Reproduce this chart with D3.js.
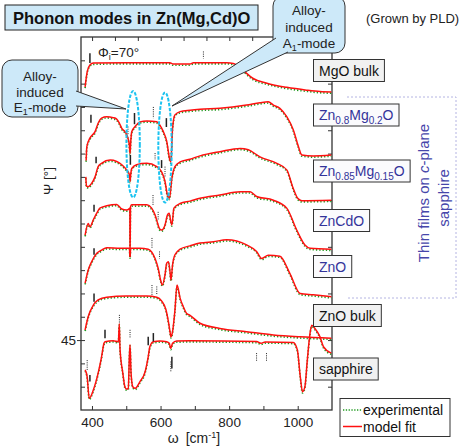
<!DOCTYPE html>
<html>
<head>
<meta charset="utf-8">
<script src="https://cdn.jsdelivr.net/npm/d3@7"></script>
<style>
body { margin: 0; background: #fff; }
svg { display: block; font-family: "Liberation Sans", Arial, sans-serif; }
</style>
</head>
<body>
<script>
let width = 462;
let height = 446;

// tick labels
let xTickLabels = [400, 600, 800, 1000];
let yTickLabels = [45];

// sample names (top to bottom), parts flagged 1 are subscripts
let sampleLabels = [
    [["MgO bulk", 0]],
    [["Zn", 0], ["0.8", 1], ["Mg", 0], ["0.2", 1], ["O", 0]],
    [["Zn", 0], ["0.85", 1], ["Mg", 0], ["0.15", 1], ["O", 0]],
    [["ZnCdO", 0]],
    [["ZnO", 0]],
    [["ZnO bulk", 0]],
    [["sapphire", 0]]
];
let isFilm = [false, true, true, true, true, false, false];

// Psi spectra, [omega (cm-1), Psi (deg)], offset as in the figure
let mgoBulk = [[380,99.3],[386,102.5],[394,104.0],[404,104.4],[500,104.5],[627,104.5],[637,104.2],[686,104.2],[696,104.5],[793,104.5],[812,104.3],[832,103.6],[851,102.2],[870,101.1],[910,100.1],[968,99.2],[1026,98.6],[1065,98.3],[1098,98.2]];

let zn08mg02o = [[383,83.5],[385,86.5],[394,88.3],[409,89.7],[418,91.5],[428,92.6],[443,92.9],[462,92.7],[472,92.4],[480,91.5],[487,90.4],[496,89.7],[505,88.3],[509,86.8],[511,85.0],[513,87.5],[516,89.7],[526,90.8],[540,91.8],[560,92.0],[589,91.8],[598,91.1],[608,89.7],[618,87.6],[626,84.0],[630,83.2],[635,90.4],[642,93.3],[657,94.0],[686,94.3],[715,94.5],[773,94.7],[851,95.4],[890,95.9],[914,96.1],[929,95.4],[948,94.7],[968,92.9],[987,90.1],[1002,86.5],[1012,84.7],[1045,84.5],[1098,84.7]];

let zn085mg015o = [[382,80.0],[384,78.0],[389,77.9],[399,78.6],[409,80.0],[418,82.2],[428,82.9],[453,83.6],[472,83.3],[487,82.6],[501,81.5],[509,80.5],[511,79.0],[513,80.5],[516,81.8],[530,82.6],[560,82.9],[589,82.2],[603,81.1],[613,79.0],[620,76.1],[626,75.4],[633,79.7],[642,82.2],[657,83.2],[686,83.8],[715,84.5],[773,85.4],[832,86.1],[856,85.8],[890,84.3],[939,82.9],[968,81.5],[987,77.5],[1000,75.4],[1012,74.9],[1098,75.0]];

let znCdO = [[380,67.5],[389,70.0],[394,69.3],[404,70.8],[414,72.2],[423,73.3],[443,73.8],[472,74.1],[487,73.1],[501,72.9],[509,73.2],[510.5,73.3],[511,62.8],[512.5,73.6],[516,74.0],[560,74.0],[574,73.3],[584,71.8],[590,70.4],[596,69.0],[603,68.6],[613,69.7],[620,71.8],[625,72.2],[630,70.4],[633,69.7],[639,73.3],[657,74.3],[686,74.8],[715,75.4],[773,76.1],[832,76.8],[861,76.8],[880,75.8],[929,75.0],[968,73.3],[997,68.6],[1021,65.4],[1036,64.7],[1098,64.5]];

let znO = [[380,57.2],[389,60.0],[399,61.8],[414,63.6],[428,64.3],[443,64.8],[482,64.7],[509,64.7],[511,62.9],[513,64.7],[540,64.7],[564,64.5],[574,63.9],[584,62.5],[593,60.4],[600,57.9],[605,56.8],[613,59.0],[618,61.5],[623,61.8],[627.5,59.7],[630.5,57.9],[635,61.1],[642,63.3],[657,64.5],[686,65.2],[715,65.8],[754,66.1],[793,66.5],[851,65.4],[880,64.0],[895,62.5],[914,63.2],[948,63.0],[977,59.3],[1007,55.0],[1045,54.7],[1098,54.3]];

let znoBulk = [[380,47.2],[389,50.0],[404,52.5],[418,53.6],[443,54.2],[501,54.45],[560,54.45],[589,54.2],[603,53.4],[616,51.45],[623,48.9],[627.5,46.8],[630.5,45.7],[635,46.8],[642,51.45],[648,56.8],[657,54.0],[666,52.2],[676,50.7],[686,50.3],[715,48.6],[773,47.5],[851,46.8],[929,46.1],[1007,45.7],[1098,45.4]];

let sapphire = [[380,38.6],[386,37.1],[392,32.5],[404,34.3],[418,37.9],[428,41.4],[435,44.3],[438,44.65],[462,44.86],[477,44.65],[479.7,48.5],[481.7,43.2],[490,37.9],[496,35.0],[501,34.5],[506,34.65],[509,41.4],[511,44.0],[514,37.9],[519,35.0],[526,34.65],[540,36.1],[555,38.2],[564,41.4],[569,43.6],[579,44.65],[598,44.8],[618,44.65],[625.5,44.3],[629.6,43.2],[635,44.3],[647,44.8],[686,44.86],[880,44.7],[893,44.3],[905,44.6],[987,44.5],[999,42.9],[1007,37.5],[1014,33.9],[1021,35.0],[1028,40.7],[1036,46.5],[1041,48.2],[1050,47.5],[1065,45.7],[1075,43.6],[1098,42.2]];

let series = [mgoBulk, zn08mg02o, zn085mg015o, znCdO, znO, znoBulk, sapphire];

// phonon mode marks: [omega, Psi top, Psi bottom, dotted?]
let modeMarks = [
    [394,106.5,104.4,0],[725,106.9,105.4,1],
    [397,93.3,91.6,0],[505,90.8,89.0,1],[524,93.7,91.3,0],[579,95.0,92.6,1],[617,92.6,90.7,0],
    [412,84.3,82.9,0],[512,84.7,82.6,0],[584,85.1,83.6,1],[603,83.6,81.9,0],[613,82.2,80.0,1],
    [406,74.0,72.5,0],[578,76.1,74.0,1],[593,72.5,70.8,1],
    [406,64.7,63.3,0],[575,66.9,64.7,1],[597,64.0,62.5,1],
    [406,55.0,53.2,0],[575,56.8,54.7,1],[589,56.5,54.7,1],
    [386,40.7,38.6,1],[394,37.5,36.1,0],[438,47.2,45.4,0],[480,50.4,48.6,1],[511,47.2,45.4,1],
    [564,45.7,43.9,0],[579,46.5,44.7,0],[630,40.4,38.2,1],[633,41.4,38.9,0],[880,42.2,40.4,1],[909,42.2,40.4,1]
];

// alloy-induced modes: [omega centre, Psi centre, omega half-width, Psi half-height]
let alloyModes = [[520, 87.0, 19.5, 11.4], [613, 86.3, 19.5, 11.8]];

let svg = d3.select("body")
    .append("svg")
    .attr("width", width)
    .attr("height", height);

let x = d3.scaleLinear().domain([368, 1100]).range([81, 332]);
let y = d3.scaleLinear().domain([30, 110]).range([410, 37]);
// top axis in THz (1 THz = 33.356 cm-1)
let thz = d3.scaleLinear().domain([368 / 33.356, 1100 / 33.356]).range([81, 332]);

svg.append("clipPath").attr("id", "plot")
    .append("rect").attr("x", 81).attr("y", 37).attr("width", 251).attr("height", 373);

// axes
function styleAxis(g) {
    g.attr("font-family", null).attr("font-size", 13.5).attr("color", "#333");
    g.select(".domain").remove();
    g.selectAll("text").attr("fill", "#222");
}

svg.append("g")
    .attr("transform", "translate(0,410)")
    .call(d3.axisBottom(x).tickValues(d3.range(400, 1001, 100))
        .tickSizeInner(-4).tickSizeOuter(0).tickPadding(7)
        .tickFormat(d => xTickLabels.includes(d) ? d : ""))
    .call(styleAxis);

svg.append("g")
    .attr("transform", "translate(0,37)")
    .call(d3.axisTop(thz).tickValues(d3.range(12, 33, 2))
        .tickSizeInner(-4).tickSizeOuter(0).tickFormat(""))
    .call(styleAxis);

let leftAxis = svg.append("g")
    .attr("transform", "translate(81,0)")
    .call(d3.axisLeft(y).tickValues(d3.range(35, 110, 5))
        .tickSizeInner(-4).tickSizeOuter(0).tickPadding(5)
        .tickFormat(d => yTickLabels.includes(d) ? d : ""))
    .call(styleAxis);
leftAxis.selectAll(".tick").filter(d => yTickLabels.includes(d)).select("line").attr("x1", -4);

svg.append("g")
    .attr("transform", "translate(332,0)")
    .call(d3.axisRight(y).tickValues(d3.range(35, 110, 5))
        .tickSizeInner(-4).tickSizeOuter(0).tickFormat(""))
    .call(styleAxis);

svg.append("rect")
    .attr("x", 81).attr("y", 37).attr("width", 251).attr("height", 373)
    .attr("fill", "none").attr("stroke", "#333").attr("stroke-width", 1.3);

// spectra: experimental (dotted green) under the model fit (red)
let line = d3.line()
    .x(d => x(d[0]))
    .y(d => y(d[1]))
    .curve(d3.curveMonotoneX);

let plot = svg.append("g").attr("clip-path", "url(#plot)");

plot.selectAll(".exp")
    .data(series)
    .join("path")
    .attr("class", "exp")
    .attr("d", line)
    .attr("transform", "translate(0,1.2)")
    .attr("fill", "none")
    .attr("stroke", "#1f9a1f")
    .attr("stroke-width", 1.7)
    .attr("stroke-dasharray", "1.3,2");

plot.selectAll(".fit")
    .data(series)
    .join("path")
    .attr("class", "fit")
    .attr("d", line)
    .attr("fill", "none")
    .attr("stroke", "#ff1010")
    .attr("stroke-width", 1.5);

// mode marks
plot.selectAll(".mark")
    .data(modeMarks)
    .join("line")
    .attr("class", "mark")
    .attr("x1", d => x(d[0])).attr("x2", d => x(d[0]))
    .attr("y1", d => y(d[1])).attr("y2", d => y(d[2]))
    .attr("stroke", "#222")
    .attr("stroke-width", d => d[3] ? 1 : 1.5)
    .attr("stroke-dasharray", d => d[3] ? "1,1.2" : null);

// alloy-induced mode ellipses
svg.selectAll(".alloy")
    .data(alloyModes)
    .join("ellipse")
    .attr("class", "alloy")
    .attr("cx", d => x(d[0]))
    .attr("cy", d => y(d[1]))
    .attr("rx", d => x(d[0] + d[2]) - x(d[0]))
    .attr("ry", d => y(d[1] - d[3]) - y(d[1]))
    .attr("fill", "none")
    .attr("stroke", "#1cc3f0")
    .attr("stroke-width", 2)
    .attr("stroke-dasharray", "3.5,1.5");

// callouts
let calloutFill = "#cde9f9";
function callout(bx, by, bw, bh, wedge, lines) {
    let g = svg.append("g");
    g.append("rect")
        .attr("x", bx).attr("y", by).attr("width", bw).attr("height", bh)
        .attr("rx", 10).attr("fill", calloutFill).attr("stroke", "#333").attr("stroke-width", 1);
    g.append("path")
        .attr("d", "M" + wedge[0] + "L" + wedge[1] + "L" + wedge[2] + "Z")
        .attr("fill", calloutFill);
    g.append("path")
        .attr("d", "M" + wedge[0] + "L" + wedge[1] + "L" + wedge[2])
        .attr("fill", "none").attr("stroke", "#333").attr("stroke-width", 1);
    lines.forEach((l, i) => {
        let t = g.append("text")
            .attr("x", bx + bw / 2).attr("y", by + l.dy)
            .attr("text-anchor", "middle").attr("font-size", 13.5).attr("fill", "#222");
        l.parts.forEach(p => {
            let s = t.append("tspan").text(p[0]);
            if (p[1] === 1) s.attr("font-size", 9).attr("dy", 3);
            if (p[1] === 2) s.attr("dy", -3);
        });
    });
}

callout(2, 60, 76, 57, [[76, 91], [126, 109], [76, 106]], [
    { dy: 20.5, parts: [["Alloy-", 0]] },
    { dy: 36.5, parts: [["induced", 0]] },
    { dy: 52, parts: [["E", 0], ["1", 1], ["-mode", 2]] }
]);

callout(273, -4, 72, 57, [[276, 38], [172, 106], [288, 52]], [
    { dy: 19, parts: [["Alloy-", 0]] },
    { dy: 35.5, parts: [["induced", 0]] },
    { dy: 51.5, parts: [["A", 0], ["1", 1], ["-mode", 2]] }
]);

// thin-film bracket
svg.append("path")
    .attr("d", "M347,97H456V298H347")
    .attr("fill", "none")
    .attr("stroke", "#b4b4e2")
    .attr("stroke-width", 1)
    .attr("stroke-dasharray", "2,2");

let tf = svg.append("text")
    .attr("transform", "translate(429,193) rotate(-90)")
    .attr("text-anchor", "middle").attr("font-size", 15).attr("fill", "#4646aa");
tf.append("tspan").text("Thin films on ");
tf.append("tspan").attr("font-style", "italic").text("c");
tf.append("tspan").text("-plane");
svg.append("text")
    .attr("transform", "translate(449,198) rotate(-90)")
    .attr("text-anchor", "middle").attr("font-size", 15).attr("fill", "#4646aa")
    .text("sapphire");

// sample labels
let labelTop = [59.5, 104, 160, 209.5, 255.5, 304.5, 358];
sampleLabels.forEach((parts, i) => {
    let g = svg.append("g");
    let box = g.append("rect");
    let t = g.append("text")
        .attr("x", 319).attr("y", labelTop[i] + 16)
        .attr("font-size", 14)
        .attr("fill", isFilm[i] ? "#33339a" : "#111");
    parts.forEach((p, j) => {
        let s = t.append("tspan").text(p[0]);
        if (p[1]) s.attr("font-size", 10).attr("dy", 4);
        else if (j > 0 && parts[j - 1][1]) s.attr("dy", -4);
    });
    let w = t.node().getComputedTextLength();
    box.attr("x", 313.5).attr("y", labelTop[i])
        .attr("width", w + 11).attr("height", 22)
        .attr("fill", isFilm[i] ? "#fbfbfd" : "#f1f1f1")
        .attr("stroke", "#333").attr("stroke-width", 1);
});

// incidence angle
let phi = svg.append("text").attr("x", 98).attr("y", 56.5).attr("font-size", 13.5).attr("fill", "#222");
phi.append("tspan").text("\u03A6");
phi.append("tspan").attr("font-size", 9).attr("dy", 3).text("i");
phi.append("tspan").attr("dy", -3).text("=70\u00B0");

// axis titles
svg.append("text")
    .attr("transform", "translate(53,181) rotate(-90)")
    .attr("text-anchor", "middle").attr("font-size", 13.5).attr("fill", "#222")
    .text("\u03A8 [\u00B0]");

let xt = svg.append("text")
    .attr("x", 194).attr("y", 443)
    .attr("text-anchor", "middle").attr("font-size", 14).attr("fill", "#222");
xt.append("tspan").text("\u03C9");
xt.append("tspan").attr("dx", 7).text("[cm");
xt.append("tspan").attr("font-size", 9).attr("dy", -5).text("-1");
xt.append("tspan").attr("dy", 5).text("]");

// legend
svg.append("rect")
    .attr("x", 340).attr("y", 398.5).attr("width", 110).attr("height", 38)
    .attr("fill", "#fff").attr("stroke", "#333").attr("stroke-width", 1);
svg.append("line").attr("x1", 343).attr("x2", 362).attr("y1", 410).attr("y2", 410)
    .attr("stroke", "#1f9a1f").attr("stroke-width", 1.7).attr("stroke-dasharray", "1.3,1.5");
svg.append("line").attr("x1", 343).attr("x2", 362).attr("y1", 426.5).attr("y2", 426.5)
    .attr("stroke", "#ff1010").attr("stroke-width", 1.5);
svg.append("text").attr("x", 363).attr("y", 414.5).attr("font-size", 14).attr("fill", "#111").text("experimental");
svg.append("text").attr("x", 363).attr("y", 431.5).attr("font-size", 14).attr("fill", "#111").text("model fit");

// title
svg.append("rect")
    .attr("x", 5).attr("y", 5).attr("width", 253).attr("height", 25)
    .attr("fill", "#cde8f7").attr("stroke", "#222").attr("stroke-width", 1);
svg.append("text")
    .attr("x", 13).attr("y", 23.5)
    .attr("font-size", 16.5).attr("font-weight", "bold").attr("fill", "#111")
    .text("Phonon modes in Zn(Mg,Cd)O");

svg.append("text")
    .attr("x", 366).attr("y", 23)
    .attr("font-size", 13).attr("fill", "#222")
    .text("(Grown by PLD)");
</script>
</body>
</html>
